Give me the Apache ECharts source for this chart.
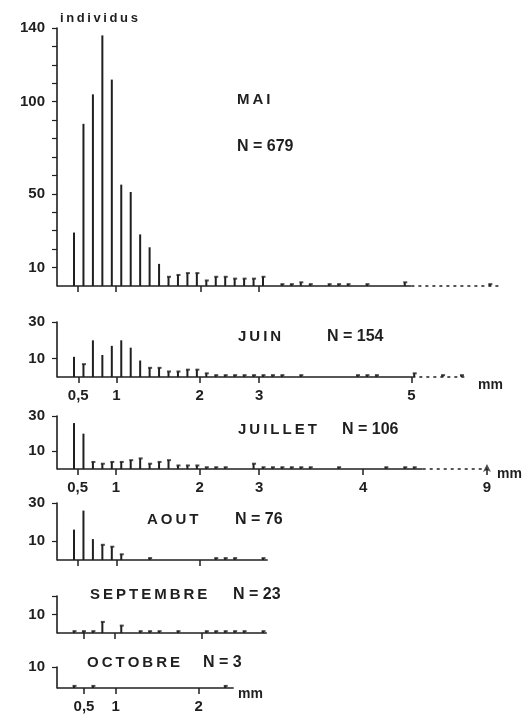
<!DOCTYPE html>
<html>
<head>
<meta charset="utf-8">
<script src="https://cdn.jsdelivr.net/npm/echarts@6.0.0/dist/echarts.min.js"></script>
<style>
html,body{margin:0;padding:0;background:#fff}
#chart{width:531px;height:716px}
</style>
</head>
<body>
<div id="chart"></div>
<script>
// mois et effectifs
var monthNames = ["MAI", "JUIN", "JUILLET", "AOUT", "SEPTEMBRE", "OCTOBRE"];
var monthN = [679, 154, 106, 76, 23, 3];

// effectifs par classe de taille (index de classe = position sur l'axe)
var maiCounts = [29, 88, 104, 136, 112, 55, 51, 28, 21, 12, 5, 6, 7, 7, 3, 5, 5, 4, 4, 4, 5, 0, 1, 1, 2, 1, 0, 1, 1, 1, 0, 1, 0, 0, 0, 2, 0, 0, 0, 0, 0, 0, 0, 0, 1];
var juinCounts = [11, 7, 20, 12, 17, 20, 16, 9, 5, 5, 3, 3, 4, 4, 2, 1, 1, 1, 1, 1, 1, 1, 1, 0, 1, 0, 0, 0, 0, 0, 1, 1, 1, 0, 0, 0, 2, 0, 0, 1, 0, 1];
var juilletCounts = [26, 20, 4, 3, 4, 4, 5, 6, 3, 4, 5, 2, 2, 2, 1, 1, 1, 0, 0, 3, 1, 1, 1, 1, 1, 1, 0, 0, 1, 0, 0, 0, 0, 1, 0, 1, 1];
var aoutCounts = [16, 26, 11, 8, 7, 3, 0, 0, 1, 0, 0, 0, 0, 0, 0, 1, 1, 1, 0, 0, 1];
var septembreCounts = [1, 1, 1, 6, 0, 4, 0, 1, 1, 1, 0, 1, 0, 0, 1, 1, 1, 1, 1, 0, 1];
var octobreCounts = [1, 0, 1, 0, 0, 0, 0, 0, 0, 0, 0, 0, 0, 0, 0, 0, 1];
var allCounts = [maiCounts, juinCounts, juilletCounts, aoutCounts, septembreCounts, octobreCounts];

// axes y
var yMax = [140, 30, 30, 30, 20, 10];
var yLabelValues = [[10, 50, 100, 140], [10, 30], [10, 30], [10, 30], [10], [10]];
var yTickValues = [[10, 20, 30, 40, 50, 60, 70, 80, 90, 100, 110, 120, 130, 140], [10, 30], [10, 30], [10, 30], [10, 20], [10]];

// axes x : graduations en mm (position en index de classe)
var xTickPos = [
    [0.42, 4.44, 13.4, 19.5],
    [0.45, 4.5, 13.3, 19.6, 35.7],
    [0.39, 4.44, 13.3, 19.6, 30.6, 43.7],
    [0.42, 4.55, 13.3],
    [1.06, 4.34, 13.5],
    [1.06, 4.4, 13.2]
];
var xTickText = [
    null,
    ["0,5", "1", "2", "3", "5"],
    ["0,5", "1", "2", "3", "4", "9"],
    null,
    null,
    ["0,5", "1", "2"]
];
var solidEnd = [35.7, 35.8, 36.9, 20.5, 20.4, 16.9];
var dashEnd = [45.3, 41.7, 43.7, null, null, null];

// mise en page (px)
var UNIT = 9.45, LEFT = 57, XMIN = -1.8;
var panelTop = [28, 322, 416, 503, 596, 667];
var panelBase = [286, 377, 469, 560, 633, 688];
var titlePos = [[237, 100], [238, 337], [238, 430], [147, 520], [90, 595], [87, 663]];
var nPos = [[237, 147], [327, 337], [342, 430], [235, 520], [233, 595], [203, 663]];
var mmPos = [[478, 385], [497, 474], [238, 694]];

var INK = "#1f1f1f";
var FONT = '"Liberation Sans", Arial, sans-serif';

function spaced(s) {
    return s.split("").join("\u2009");
}

var grids = [], xAxes = [], yAxes = [], series = [];
for (var i = 0; i < 6; i++) {
    var xEnd = dashEnd[i] != null ? dashEnd[i] : solidEnd[i];
    grids.push({
        left: LEFT,
        top: panelTop[i],
        height: panelBase[i] - panelTop[i],
        width: (xEnd - XMIN) * UNIT
    });
    (function (idx) {
        xAxes.push({
            type: "value",
            gridIndex: idx,
            min: XMIN,
            max: xEnd,
            axisLine: {show: false, onZero: false},
            splitLine: {show: false},
            axisTick: {
                show: true,
                length: 6,
                customValues: xTickPos[idx],
                lineStyle: {color: INK, width: 1.5}
            },
            axisLabel: {
                show: xTickText[idx] != null,
                customValues: xTickPos[idx],
                margin: 11,
                color: INK,
                fontSize: 15,
                fontWeight: "bold",
                fontFamily: FONT,
                formatter: function (v) {
                    var pos = xTickPos[idx];
                    for (var k = 0; k < pos.length; k++) {
                        if (Math.abs(pos[k] - v) < 0.01) {
                            return xTickText[idx][k];
                        }
                    }
                    return "";
                }
            }
        });
    })(i);
    yAxes.push({
        type: "value",
        gridIndex: i,
        min: 0,
        max: yMax[i],
        splitLine: {show: false},
        axisLine: {show: true, onZero: false, lineStyle: {color: INK, width: 1.6}},
        axisTick: {show: true, length: 5, customValues: yTickValues[i], lineStyle: {color: INK, width: 1.2}},
        axisLabel: {
            customValues: yLabelValues[i],
            margin: 12,
            color: INK,
            fontSize: 15,
            fontWeight: "bold",
            fontFamily: FONT
        }
    });

    var data = [], caps = [];
    for (var k = 0; k < allCounts[i].length; k++) {
        if (allCounts[i][k] > 0) {
            data.push([k, allCounts[i][k]]);
            if (allCounts[i][k] <= 8) {
                caps.push([k, allCounts[i][k]]);
            }
        }
    }
    series.push({
        type: "bar",
        xAxisIndex: i,
        yAxisIndex: i,
        barWidth: 2,
        itemStyle: {color: INK},
        silent: true,
        data: data
    });
    // petit trait au sommet des barres courtes
    series.push({
        type: "scatter",
        xAxisIndex: i,
        yAxisIndex: i,
        symbol: "rect",
        symbolSize: [4, 2],
        symbolOffset: [0.5, 0],
        clip: false,
        silent: true,
        itemStyle: {color: INK},
        data: caps
    });
    // ligne de base
    series.push({
        type: "line",
        xAxisIndex: i,
        yAxisIndex: i,
        symbol: "none",
        clip: false,
        silent: true,
        lineStyle: {color: INK, width: 1.6},
        data: [[XMIN, 0], [solidEnd[i], 0]]
    });
    if (dashEnd[i] != null) {
        series.push({
            type: "line",
            xAxisIndex: i,
            yAxisIndex: i,
            symbol: "none",
            clip: false,
            silent: true,
            lineStyle: {color: INK, width: 1.5, type: [3, 4]},
            data: [[solidEnd[i], 0], [dashEnd[i], 0]]
        });
    }
}

// fleche au 9 (juillet)
series.push({
    type: "scatter",
    xAxisIndex: 2,
    yAxisIndex: 2,
    symbol: "arrow",
    symbolSize: [6, 8],
    symbolOffset: [0, -5],
    clip: false,
    silent: true,
    itemStyle: {color: INK},
    data: [[xTickPos[2][5], 0]]
});

var texts = [];
texts.push({
    type: "text", x: 60, y: 18,
    style: {text: spaced("individus"), font: "bold 13px " + FONT, fill: INK, verticalAlign: "middle"}
});
for (var j = 0; j < 6; j++) {
    texts.push({
        type: "text", x: titlePos[j][0], y: titlePos[j][1],
        style: {text: spaced(monthNames[j]), font: "bold 15px " + FONT, fill: INK, verticalAlign: "middle"}
    });
    texts.push({
        type: "text", x: nPos[j][0], y: nPos[j][1],
        style: {text: "N = " + monthN[j], font: "bold 16px " + FONT, fill: INK, verticalAlign: "middle"}
    });
}
for (var m = 0; m < mmPos.length; m++) {
    texts.push({
        type: "text", x: mmPos[m][0], y: mmPos[m][1],
        style: {text: "mm", font: "bold 14px " + FONT, fill: INK, verticalAlign: "middle"}
    });
}

var myChart = echarts.init(document.getElementById("chart"));
myChart.setOption({
    backgroundColor: "#ffffff",
    animation: false,
    grid: grids,
    xAxis: xAxes,
    yAxis: yAxes,
    series: series,
    graphic: texts
});
</script>
</body>
</html>
